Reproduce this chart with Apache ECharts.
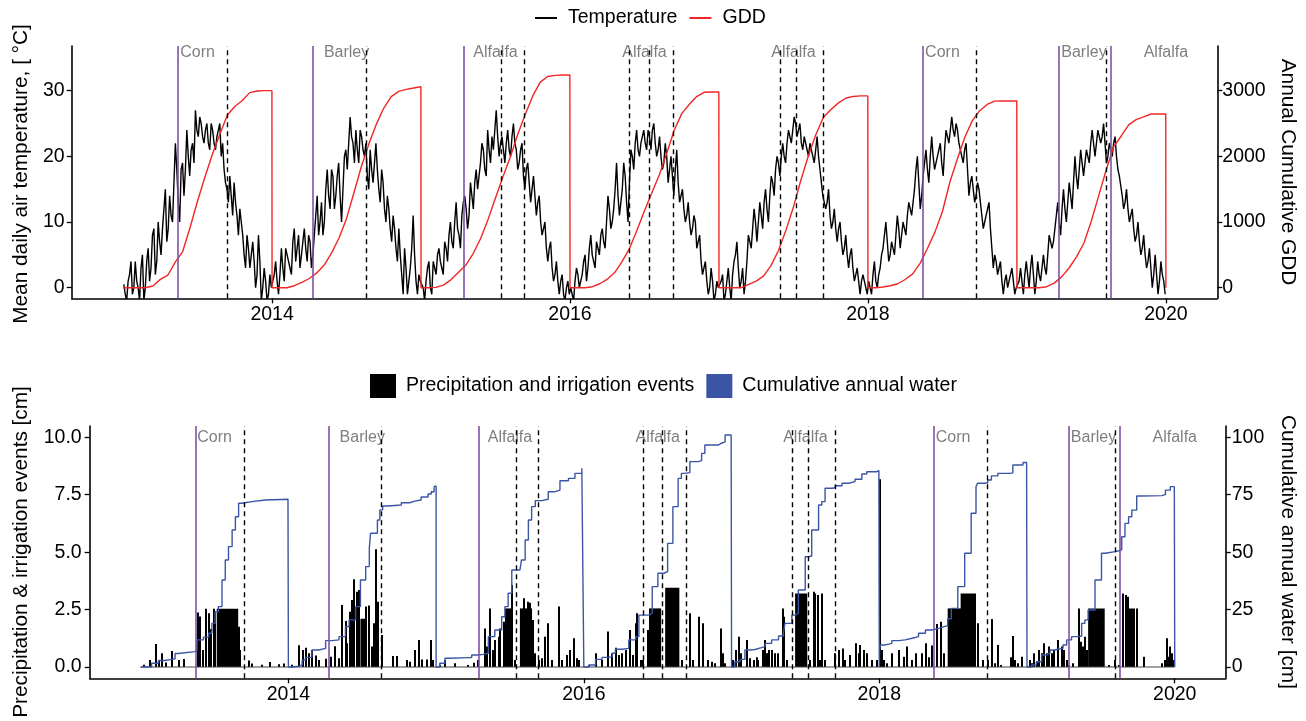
<!DOCTYPE html>
<html><head><meta charset="utf-8">
<script src="https://cdn.jsdelivr.net/npm/echarts@6/dist/echarts.min.js"></script>
<style>html,body{margin:0;padding:0;background:#fff}#c{width:1306px;height:721px}</style>
</head><body><div id="c"></div>
<script>
// ---------------- data ----------------
const years = [2013, 2014, 2015, 2016, 2017, 2018, 2019];
const xTicks = [2014, 2016, 2018, 2020];

// mean daily air temperature, °C: one reading early in each week (52/yr) ...
const temp2013 = [0.5,-2,2,-1,4,0,3,-2,4,1,8,2,10,5,12,7,14,10,22,13,18,14,24,17,22,27,23,25,22,25,21,24,21,24,20,18,15,17,11,13,8,10,5,8,3,7,0,8,-2,3,-2,2];
const temp2014 = [0,4,-1,6,1,5,3,7,4,8,5,9,4,7,5,11,8,13,10,18,12,17,14,19,10,20,18,26,22,24,19,23,20,17,21,16,22,15,18,12,14,9,11,6,9,2,6,-1,3,11,1,2];
const temp2015 = [1,-2,3,0,4,2,6,3,7,4,10,6,13,8,11,14,9,16,12,18,15,22,18,24,19,21,27,20,23,19,24,20,25,21,19,22,15,19,13,17,11,14,8,10,4,7,1,4,-1,2,-2,1];
const temp2016 = [0,-2,3,0,2,5,3,8,4,7,5,9,6,14,9,12,19,11,15,17,10,21,18,24,20,23,22,24,21,25,20,23,18,22,16,20,14,21,13,15,10,13,8,11,6,8,2,4,-1,3,-2,1];
const temp2017 = [0,2,-1,3,-2,4,7,0,3,1,8,6,12,7,13,9,15,10,17,14,20,17,22,19,24,22,26,23,25,21,23,20,22,19,23,18,14,12,15,9,12,7,10,5,8,3,6,1,3,-1,2,0];
const temp2018 = [1,-1,4,0,3,6,10,4,7,5,11,6,10,8,13,11,15,20,12,17,21,16,23,18,20,22,17,24,22,26,23,24,21,19,22,14,17,13,16,13,9,11,13,6,5,2,4,-1,2,1,3,-1];
const temp2019 = [0,3,-1,4,0,5,-1,4,1,5,2,8,6,9,13,8,15,10,16,12,20,15,21,17,21,19,24,20,24,22,25,19,22,20,23,18,17,12,15,10,12,7,10,5,8,3,6,0,5,-1,4,1];
// ... and one reading in the second half of each week (52/yr)
const tempMid2013 = [-1,1,4,0,1,-2,5,0,6,3,9,4,7,9,15,9,11,16,18,10,19,18,20,21,19,24,26,23,24,22,25,22,23,25,22,16,13,14,16,11,12,8,3,6,5,4,2,4,0,1,-1,0];
const tempMid2014 = [2,1,2,3,6,4,2,9,6,3,7,6,8,3,8,14,10,8,15,14,18,12,17,14,15,21,22,23,19,21,24,21,22,15,18,19,18,13,16,10,12,7,9,4,5,-1,3,1,6,5,-1,1];
const tempMid2015 = [0,1,4,-1,3,5,4,2,6,8,7,10,9,6,13,12,11,14,16,15,19,21,17,21,23,24,23,22,21,22,21,23,22,18,21,17,18,16,15,14,13,10,9,6,6,3,2,1,1,-1,0,-1];
const tempMid2016 = [-1,1,2,1,4,1,6,5,3,6,8,7,10,12,10,15,14,13,19,13,16,20,22,21,22,24,21,23,24,22,21,20,19,20,18,17,18,16,14,12,11,10,9,10,7,4,3,1,0,1,-1,0];
const tempMid2017 = [1,-2,1,0,2,5,3,1,-1,4,7,9,10,10,11,13,12,14,16,18,19,20,20,22,23,24,25,24,22,23,21,22,20,21,20,16,13,13,11,10,9,9,7,6,5,5,3,2,1,1,1,-1];
const tempMid2018 = [0,2,1,2,5,8,7,5,6,8,9,8,9,11,12,13,18,16,14,19,18,20,20,19,21,19,21,23,24,24,25,22,20,21,18,16,15,14,15,11,10,12,9,3,4,3,1,1,0,2,1,0];
const tempMid2019 = [1,1,2,2,3,2,1,2,3,3,5,7,7,11,10,12,12,13,14,16,17,18,19,19,20,22,22,22,23,23,22,20,21,22,20,17,14,13,12,11,9,8,7,6,5,4,3,2,2,1,2,-1];

// annual cumulative GDD at fractions of the year
const gddFrac = [0,0.05,0.10,0.15,0.20,0.25,0.30,0.35,0.40,0.45,0.50,0.55,0.60,0.65,0.70,0.75,0.80,0.85,0.90,0.95,0.999];
const gdd2013 = [0,0,0,0,25,127,190,390,550,920,1320,1690,2035,2340,2630,2760,2850,2970,2995,3000,3000];
const gdd2014 = [0,0,0,30,80,140,225,345,530,760,1055,1450,1850,2190,2490,2735,2910,2990,3020,3040,3060];
const gdd2015 = [0,0,5,40,120,230,340,520,750,1040,1370,1690,1995,2340,2640,2920,3130,3215,3232,3238,3240];
const gdd2016 = [0,0,0,15,60,130,230,400,600,880,1170,1450,1720,2050,2400,2650,2790,2910,2975,2980,2980];
const gdd2017 = [0,0,0,0,50,100,180,340,570,880,1230,1640,2010,2330,2590,2710,2810,2885,2912,2920,2920];
const gdd2018 = [0,0,10,30,60,125,210,370,600,850,1160,1610,1960,2290,2540,2695,2790,2840,2843,2843,2843];
const gdd2019 = [0,0,0,0,15,70,165,300,470,680,1020,1410,1800,2150,2310,2480,2560,2600,2645,2645,2645];

// cumulative annual water [day of year, cm]
const water2013 = [[0,0],[27,1.6],[44,2.8],[60,3.3],[77,3.6],[85,5.9],[93,6.7],[134,7.1],[139,11.8],[155,13],[168,14.7],[176,19],[184,24],[192,26.3],[201,37.9],[209,46.6],[217,52.4],[226,59.6],[234,65.4],[242,71.3],[250,72],[275,72.7],[308,73],[364,73.7]];
const water2014 = [[0,0],[9,0.4],[26,0.9],[34,3],[42,4.2],[58,7.4],[75,8.1],[92,11.5],[108,11.8],[125,13.2],[141,17.6],[150,20.5],[166,26.3],[178,37.9],[191,43.7],[200,52],[203,58.2],[215,58.2],[220,64],[226,68.4],[233,70.1],[246,70.5],[279,71.5],[300,72.2],[312,72.7],[328,74],[345,75.3],[353,76.3],[360,78.5],[364,78.8]];
const water2015 = [[0,0],[9,1.6],[22,3.8],[34,4.1],[79,4.1],[88,5.2],[104,5.5],[116,5.5],[120,6],[129,13.2],[145,16.1],[162,21.9],[170,26.3],[178,32.1],[187,42.2],[207,42.5],[211,46.6],[220,55.3],[228,64],[236,69.8],[245,72.4],[261,73],[277,76.3],[294,77],[306,81.1],[327,82.1],[343,84.3],[360,86.5],[364,87]];
const water2016 = [[0,0],[12,0.9],[29,3.3],[45,4.2],[62,4.5],[70,6],[78,7.7],[95,8.1],[111,11.8],[128,13.2],[136,22.6],[161,23.4],[169,35],[183,40.8],[198,41.5],[207,53.8],[220,69.8],[233,82.1],[241,84.3],[249,84.6],[262,89.4],[283,89.8],[291,93],[299,96.6],[332,97.4],[340,98],[349,101],[364,101.2]];
const water2017 = [[0,0],[8,2.3],[21,3.3],[33,7.4],[45,7.6],[58,8.4],[74,8.9],[83,10.3],[99,11.8],[116,13.5],[128,14.9],[132,19],[149,22.6],[157,23.4],[165,33.5],[182,48],[190,48.3],[198,59.6],[215,70.5],[223,72],[231,77.8],[248,78],[256,78.9],[273,80],[289,80.7],[305,81.7],[322,84],[334,85],[359,85.5],[364,85.5]];
const water2018 = [[0,0],[1,8.2],[3,9.6],[15,10.3],[31,11.5],[48,11.8],[64,12.5],[81,13.2],[97,14.7],[114,16.1],[130,16.8],[147,17.6],[160,18],[169,21],[178,25.5],[194,35],[211,49.5],[227,66.9],[239,78.5],[243,80],[260,80.2],[268,81.4],[277,83.2],[293,84.3],[322,84.5],[330,87.9],[355,89],[364,89]];
const water2019 = [[0,0],[11,0.9],[23,2.3],[36,5.2],[48,6],[57,7.4],[69,7.7],[77,8.1],[89,9.6],[98,11.8],[110,13.2],[127,13.5],[135,19],[143,20.5],[151,24.8],[168,37.9],[184,49.5],[193,50.2],[218,50.6],[227,51],[234,56.7],[242,62.5],[251,65.4],[259,68.3],[271,74.4],[284,74.6],[333,75],[342,77],[354,78.5],[364,78.8]];

// precipitation and irrigation events [day of year, cm]
const precip2013 = [[7,0.1],[23,0.3],[37,1.0],[44,0.3],[52,0.6],[62,0.2],[78,0.7],[93,0.3],[106,0.35],[140,2.37],[147,2.2],[153,0.74],[161,2.54],[168,2.34],[174,1.65],[180,2.54],[184,2.41],[242,1.75],[246,0.74],[267,0.28],[275,0.15],[300,0.1],[320,0.22],[341,0.12],[353,0.15]];
const precip2014 = [[9,0.1],[26,0.95],[36,0.74],[42,0.84],[50,0.6],[59,0.74],[67,0.5],[75,0.3],[92,0.36],[104,0.45],[115,0.9],[125,0.38],[133,2.7],[141,2.0],[145,1.03],[151,2.41],[156,2.92],[162,3.82],[168,3.28],[173,3.35],[192,2.63],[199,2.68],[206,0.89],[211,1.9],[217,5.12],[222,2.84],[230,1.39],[258,0.48],[269,0.48],[292,0.3],[300,0.23],[312,0.74],[322,1.18],[329,0.33],[341,0.33],[352,1.18],[358,0.3]];
const precip2015 = [[9,0.09],[21,0.3],[46,0.16],[79,0.09],[94,0.19],[104,0.3],[121,1.68],[125,0.89],[133,2.55],[139,0.74],[145,1.18],[154,1.32],[158,1.68],[166,1.97],[188,3.57],[195,0.3],[216,2.99],[226,2.84],[232,2.8],[238,2.05],[244,0.6],[253,0.3],[261,0.38],[269,1.32],[277,1.9],[286,0.3],[304,2.63],[310,0.3],[323,0.52],[331,0.74],[339,1.25],[348,0.38],[353,0.3]];
const precip2016 = [[12,0.09],[29,0.6],[45,0.3],[60,1.54],[70,0.6],[78,0.84],[87,0.52],[95,0.6],[103,0.74],[114,1.61],[120,0.52],[128,1.9],[132,2.34],[140,0.3],[146,0.3],[157,1.61],[243,0.3],[262,2.34],[270,0.3],[284,2.19],[295,1.9],[307,0.3],[315,0.23],[323,0.16],[338,1.68],[344,0.6],[348,0.16]];
const precip2017 = [[4,0.3],[10,0.74],[17,1.32],[23,0.6],[37,1.18],[45,0.38],[54,0.3],[62,0.42],[66,0.3],[78,0.74],[83,1.18],[87,0.6],[92,0.74],[99,0.74],[107,0.6],[114,0.6],[126,2.55],[130,2.19],[136,0.3],[194,0.3],[202,3.28],[206,3.2],[213,3.13],[219,0.3],[223,3.2],[231,0.3],[256,0.6],[264,0.74],[274,0.8],[281,0.3],[293,0.52],[306,1.03],[314,0.6],[318,0.96],[326,0.74],[334,0.6],[347,0.3],[359,0.3]];
const precip2018 = [[1,8.17],[5,0.74],[11,0.3],[19,0.16],[31,0.6],[48,0.74],[60,0.45],[69,0.89],[81,0.3],[89,0.6],[106,0.6],[114,1.03],[122,0.42],[130,0.94],[143,1.87],[151,1.97],[159,0.6],[244,1.9],[256,0.3],[267,0.3],[278,2.09],[285,0.16],[293,0.96],[301,0.09],[325,0.42],[329,1.35],[334,0.3],[343,0.16],[351,0.45]];
const precip2019 = [[7,0.3],[11,0.16],[18,0.6],[23,0.23],[29,0.74],[36,0.6],[42,1.03],[48,0.6],[54,0.89],[61,0.6],[67,0.74],[77,1.18],[85,0.89],[92,0.74],[98,0.3],[103,0.09],[114,0.16],[128,2.55],[133,1.1],[137,0.89],[142,1.32],[148,0.74],[201,0.09],[216,0.3],[227,0.09],[236,3.2],[243,3.13],[248,3.06],[255,2.55],[260,2.55],[265,2.55],[271,2.55],[289,0.45],[333,0.16],[341,0.3],[345,1.25],[350,0.45],[354,0.89],[358,0.6],[362,0.3]];
// near-daily irrigation periods [year, first day, last day, cm]
const irrigationBlocks = [[2013,188,240,2.54],[2014,178,190,2.1],[2015,170,186,2.55],[2015,207,236,2.55],[2016,161,190,2.55],[2016,201,235,3.45],[2017,157,186,3.2],[2018,169,201,2.55],[2018,201,238,3.2],[2019,151,191,2.55]];

// management events (decimal year)
const plantingDates = [2013.369, 2014.268, 2015.291, 2018.371, 2019.279, 2019.635];
const harvestDates = [2013.700, 2014.631, 2015.544, 2015.687, 2016.397, 2016.527, 2016.686, 2017.413, 2017.518, 2017.704, 2018.729, 2019.602];
const cropLabels = ['Corn','Barley','Alfalfa','Alfalfa','Alfalfa','Corn','Barley','Alfalfa'];
const cropLabelX = [2013.5, 2014.5, 2015.5, 2016.5, 2017.5, 2018.5, 2019.45, 2020.0];

// ---------------- build ----------------
const tempByYear = [temp2013,temp2014,temp2015,temp2016,temp2017,temp2018,temp2019];
const tempMidByYear = [tempMid2013,tempMid2014,tempMid2015,tempMid2016,tempMid2017,tempMid2018,tempMid2019];
const gddByYear = [gdd2013,gdd2014,gdd2015,gdd2016,gdd2017,gdd2018,gdd2019];
const waterByYear = [water2013,water2014,water2015,water2016,water2017,water2018,water2019];
const precipByYear = [precip2013,precip2014,precip2015,precip2016,precip2017,precip2018,precip2019];

const tempData = [], gddData = [], waterData = [], barData = [];
years.forEach((y, k) => {
  tempByYear[k].forEach((v, i) => {
    tempData.push([y + (i + 0.25) / 52, v]);
    tempData.push([y + (i + 0.75) / 52, tempMidByYear[k][i]]);
  });
  gddFrac.forEach((f, i) => gddData.push([y + f, gddByYear[k][i]]));
  waterByYear[k].forEach(p => waterData.push([y + p[0] / 365, p[1]]));
  precipByYear[k].forEach(p => barData.push([y + p[0] / 365, y + (p[0] + 1) / 365, p[1]]));
});
gddData.push([years[years.length - 1] + 1, 0]);
waterData.push([years[years.length - 1] + 1, 0]);
irrigationBlocks.forEach(b => barData.push([b[0] + b[1] / 365, b[0] + (b[2] + 1) / 365, b[3]]));

const FONT = '"Liberation Sans", Arial, Helvetica, sans-serif';
const PURPLE = '#8151A8', RED = '#F22626', BLUE = '#3B55A5', GREY = '#7F7F7F';
const XMIN = 2012.655, XMAX = 2020.345;
const TICK_FS = 19.5, TITLE_FS = 20.8, LEG_FS = 19.5;

const vLines = plantingDates.map(v => ({xAxis: v, lineStyle: {color: PURPLE, type: 'solid', width: 1.6}}))
  .concat(harvestDates.map(v => ({xAxis: v, lineStyle: {color: '#000', type: [5, 4], width: 1.4}})));

const plain = v => String(v);
function xAxisCfg(gi) {
  return {gridIndex: gi, type: 'value', min: XMIN, max: XMAX,
    axisLine: {show: true, onZero: false, lineStyle: {color: '#000', width: 1.6}},
    axisTick: {show: true, customValues: xTicks, length: 5, lineStyle: {color: '#000', width: 1.3}},
    axisLabel: {customValues: xTicks, color: '#000', fontSize: TICK_FS, fontFamily: FONT, margin: 6, formatter: plain},
    splitLine: {show: false}};
}
function yAxisCfg(gi, pos, min, max, ticks, margin, fmt) {
  return {gridIndex: gi, type: 'value', position: pos, min: min, max: max,
    axisLine: {show: true, onZero: false, lineStyle: {color: '#000', width: 1.6}},
    axisTick: {show: true, customValues: ticks, length: 5, lineStyle: {color: '#000', width: 1.3}},
    axisLabel: {customValues: ticks, color: '#000', fontSize: TICK_FS, fontFamily: FONT, margin: margin, formatter: fmt || plain},
    splitLine: {show: false}};
}
function labelSeries(xi, yi, yTop, offset) {
  return {type: 'custom', xAxisIndex: xi, yAxisIndex: yi, z: 1, silent: true,
    data: cropLabelX.map(v => [v, yTop]), encode: {x: 0, y: 1},
    renderItem: (params, api) => {
      const p = api.coord([api.value(0), api.value(1)]);
      return {type: 'text', x: p[0], y: p[1] + offset,
        style: {text: cropLabels[params.dataIndex], fill: GREY, font: '16px ' + FONT, align: 'center', verticalAlign: 'middle'}};
    }};
}
function vLineSeries(xi, yi, y0) {
  return {type: 'line', xAxisIndex: xi, yAxisIndex: yi, data: [[XMIN, y0]], showSymbol: false, z: 6, silent: true,
    lineStyle: {opacity: 0}, tooltip: {show: false},
    markLine: {symbol: ['none', 'none'], silent: true, label: {show: false}, animation: false, data: vLines}};
}
function titleText(x, y, rot, text) {
  return {type: 'text', x: x, y: y, rotation: rot,
    style: {text: text, font: TITLE_FS + 'px ' + FONT, fill: '#000', align: 'center', verticalAlign: 'middle'}};
}

const option = {
  animation: false,
  backgroundColor: '#fff',
  grid: [
    {left: 71.7, right: 88.7, top: 46, bottom: 422.7},
    {left: 89.7, right: 80.3, top: 426, bottom: 42.7}
  ],
  legend: [
    {data: [{name: 'Temperature', icon: 'rect'}, {name: 'GDD', icon: 'rect'}], left: 535, top: 8, padding: 0,
      itemWidth: 22, itemHeight: 2, itemGap: 12,
      textStyle: {fontSize: LEG_FS, fontFamily: FONT, color: '#000', padding: [0, 0, 0, 6]}},
    {data: [{name: 'Precipitation and irrigation events', icon: 'rect'}, {name: 'Cumulative annual water', icon: 'rect'}],
      left: 370, top: 374, padding: 0, itemWidth: 26, itemHeight: 24, itemGap: 12,
      textStyle: {fontSize: LEG_FS, fontFamily: FONT, color: '#000', padding: [0, 0, 0, 5]}}
  ],
  xAxis: [xAxisCfg(0), xAxisCfg(1)],
  yAxis: [
    yAxisCfg(0, 'left', -1.614, 36.8, [0, 10, 20, 30], 7),
    yAxisCfg(0, 'right', -161.4, 3680, [0, 1000, 2000, 3000], 5),
    yAxisCfg(1, 'left', -0.492, 10.49, [0, 2.5, 5, 7.5, 10], 8, v => v.toFixed(1)),
    yAxisCfg(1, 'right', -4.92, 104.9, [0, 25, 50, 75, 100], 6)
  ],
  graphic: [
    titleText(21, 174, Math.PI / 2, 'Mean daily air temperature, [ °C]'),
    titleText(1288, 172, -Math.PI / 2, 'Annual Cumulative GDD'),
    titleText(21, 552, Math.PI / 2, 'Precipitation & irrigation events [cm]'),
    titleText(1288, 552, -Math.PI / 2, 'Cumulative annual water [cm]')
  ],
  series: [
    labelSeries(0, 0, 36.8, 6.5),
    {name: 'Temperature', type: 'line', xAxisIndex: 0, yAxisIndex: 0, data: tempData, showSymbol: false, z: 2,
      color: '#000', lineStyle: {color: '#000', width: 1.4}, itemStyle: {color: '#000'}},
    {name: 'GDD', type: 'line', xAxisIndex: 0, yAxisIndex: 1, data: gddData, showSymbol: false, z: 3,
      color: RED, lineStyle: {color: RED, width: 1.4}, itemStyle: {color: RED}},
    vLineSeries(0, 0, 0),
    labelSeries(1, 2, 10.49, 11.5),
    {name: 'baseline', type: 'line', xAxisIndex: 1, yAxisIndex: 2, data: [[years[0], 0], [years[years.length - 1] + 1, 0]],
      showSymbol: false, z: 2, lineStyle: {color: '#444', width: 1.2}, silent: true},
    {name: 'Precipitation and irrigation events', type: 'custom', xAxisIndex: 1, yAxisIndex: 2, z: 2,
      color: '#000', itemStyle: {color: '#000'}, data: barData, encode: {x: [0, 1], y: 2},
      renderItem: (params, api) => {
        const a = api.coord([api.value(0), 0]);
        const b = api.coord([api.value(1), api.value(2)]);
        let x = a[0], w = b[0] - a[0];
        if (w < 2) { x = Math.round((a[0] + b[0]) / 2 - 1); w = 2; }
        return {type: 'rect', shape: {x: x, y: b[1], width: w, height: a[1] - b[1]}, style: {fill: '#000'}};
      }},
    {name: 'Cumulative annual water', type: 'line', step: 'end', xAxisIndex: 1, yAxisIndex: 3, data: waterData,
      showSymbol: false, z: 3, color: BLUE, lineStyle: {color: BLUE, width: 1.4}, itemStyle: {color: BLUE}},
    vLineSeries(1, 2, 0)
  ]
};
const chart = echarts.init(document.getElementById('c'), null, {renderer: 'canvas'});
chart.setOption(option);
</script></body></html>
